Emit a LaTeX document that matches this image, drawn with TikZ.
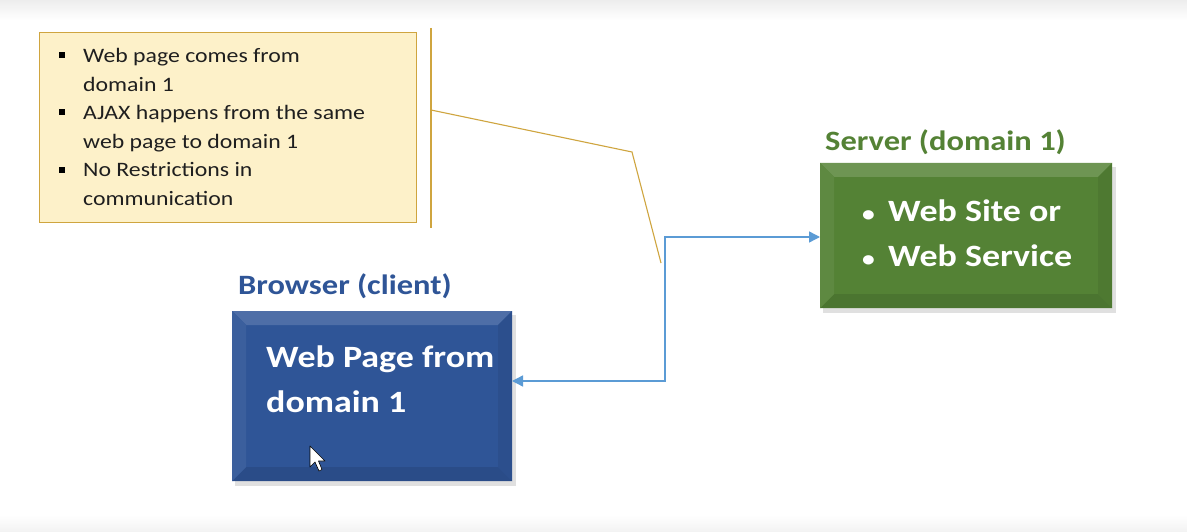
\documentclass[tikz,border=0pt]{standalone}
\usepackage{fontspec}
\setmainfont{Carlito}[FakeStretch=1.16]
\usetikzlibrary{calc,arrows.meta}
\definecolor{calloutfill}{HTML}{FDF1C9}
\definecolor{calloutline}{HTML}{CFA53F}
\definecolor{clientblue}{HTML}{2F5597}
\definecolor{clientlabel}{HTML}{2F5597}
\definecolor{servergreen}{HTML}{548235}
\definecolor{serverlabel}{HTML}{548235}
\definecolor{connblue}{HTML}{5B9BD5}
\tikzset{
  bevelbox/.style={minimum width=#1, inner sep=0pt, outer sep=0pt},
  boxlabel/.style={font=\fontsize{28}{32}\selectfont\bfseries, anchor=west, inner sep=0pt},
  boxtext/.style={font=\fontsize{31}{45}\selectfont\bfseries, text=white, align=left, anchor=north west, inner sep=0pt},
  callouttext/.style={font=\fontsize{20.5}{28.6}\selectfont, align=left, anchor=north west, inner sep=0pt, text=black!88},
  conn/.style={draw=connblue, line width=1.4pt, {Triangle[width=11pt,length=11pt]}-{Triangle[width=11pt,length=11pt]}},
  accent/.style={draw=calloutline, line width=1.1pt}
}
\newcommand{\bevel}[5]{% x1 y1 x2 y2 basecolor
  \fill[black!20, opacity=0.6] (#1+3,#2+4) rectangle (#3+4,#4+5);
  \fill[#5] (#1,#2) rectangle (#3,#4);
  \fill[#5!85!white] (#1,#2) -- (#3,#2) -- (#3-14,#2+14) -- (#1+14,#2+14) -- cycle;
  \fill[#5!90!black] (#1,#4) -- (#3,#4) -- (#3-14,#4-14) -- (#1+14,#4-14) -- cycle;
  \fill[#5!94!white] (#1,#2) -- (#1+14,#2+14) -- (#1+14,#4-14) -- (#1,#4) -- cycle;
  \fill[#5!93!black] (#3,#2) -- (#3-14,#2+14) -- (#3-14,#4-14) -- (#3,#4) -- cycle;
}
\begin{document}
\begin{tikzpicture}[x=1pt,y=-1pt]
\useasboundingbox (0,0) rectangle (1187,532);
\fill[white] (0,0) rectangle (1187,532);
\shade[top color=black!7, bottom color=white] (0,0) rectangle (1187,20);
\shade[top color=white, bottom color=black!5] (0,515) rectangle (1187,532);

% callout
\node[draw=calloutline, fill=calloutfill, line width=1pt, minimum width=377pt, minimum height=190pt, anchor=north west, inner sep=0pt] (callout) at (39,32) {};
\node[callouttext] (ctext) at (83,48) {Web page comes from\\domain 1\\AJAX happens from the same\\web page to domain 1\\No Restrictions in\\communication};
\foreach \y in {55,112,170} \fill[black] (59,\y-3) rectangle (65,\y+3);
\coordinate (barTop) at (431,28);
\coordinate (barBot) at (431,228);
\coordinate (bend) at (632,152);
\coordinate (tip) at (661,263);
\draw[accent] (barTop) -- (barBot);
\draw[accent] (431,110) -- (bend) -- (tip);

% client box
\bevel{232}{311}{512}{481}{clientblue}
\node[bevelbox=280pt, minimum height=170pt, anchor=north west] (client) at (232,311) {};
\node[boxlabel, text=clientlabel] (clientlab) at (238,286) {Browser (client)};
\node[boxtext] (clienttext) at (266,346) {Web Page from\\domain 1};
% mouse cursor
\draw[black, fill=white, line width=0.6pt, line join=round] (310,446) -- (310,467) -- (315,462) -- (319,471) -- (322,469.5) -- (318.5,461) -- (325,461) -- cycle;

% server box
\bevel{820}{163}{1112}{308}{servergreen}
\node[bevelbox=292pt, minimum height=145pt, anchor=north west] (server) at (820,163) {};
\node[boxlabel, text=serverlabel] (serverlab) at (825,142) {Server (domain 1)};
\node[boxtext] (servertext) at (862,200) {{\fontsize{22}{22}\selectfont\textbullet}\ \,Web Site or\\{\fontsize{22}{22}\selectfont\textbullet}\ \,Web Service};

% connector
\coordinate (cEnd) at ($(client.east)+(0,-15)$);
\coordinate (sEnd) at ($(server.west)+(0,1.5)$);
\draw[conn] (cEnd) -- (665,381) |- (sEnd);
\end{tikzpicture}
\end{document}
